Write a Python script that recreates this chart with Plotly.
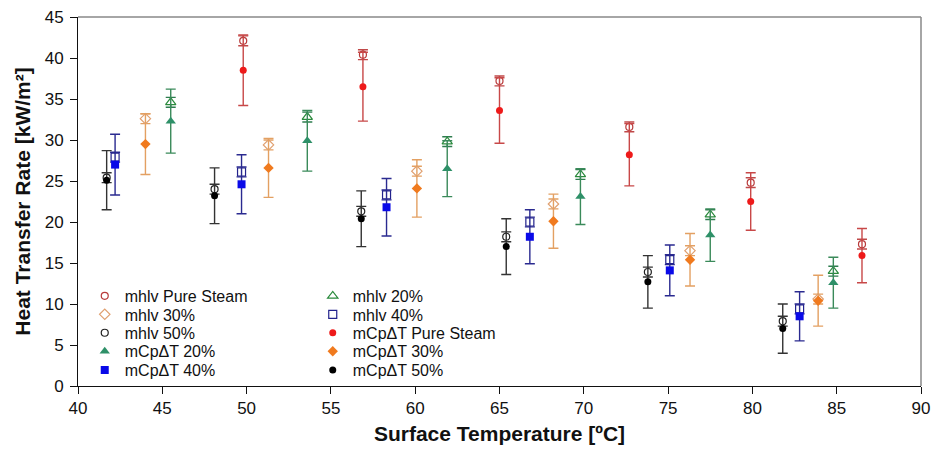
import plotly.graph_objects as go

# Surface temperatures (x) per series
x_ps = [49.8, 56.9, 65.0, 72.7, 79.9, 86.5]
x_20 = [45.5, 53.6, 61.9, 69.8, 77.5, 84.8]
x_30 = [44.0, 51.3, 60.1, 68.2, 76.3, 83.9]
x_40 = [42.2, 49.7, 58.3, 66.8, 75.1, 82.8]
x_50 = [41.7, 48.1, 56.8, 65.4, 73.8, 81.8]

# mhlv heat transfer rate
mhlv_ps = [42.1, 40.4, 37.2, 31.6, 24.8, 17.3]
mhlv_20 = [34.6, 32.8, 29.8, 25.8, 20.9, 14.0]
mhlv_30 = [32.6, 29.4, 26.2, 22.2, 16.5, 10.6]
mhlv_40 = [27.9, 26.1, 23.3, 20.0, 15.4, 9.4]
mhlv_50 = [25.4, 24.0, 21.3, 18.2, 13.9, 7.9]
mhlv_err = [0.6, 0.6, 0.6, 0.6, 0.6, 0.6]

# mCpDeltaT heat transfer rate and error
mcp_ps = [38.5, 36.5, 33.6, 28.2, 22.5, 15.9]
mcp_ps_err = [4.3, 4.2, 4.0, 3.8, 3.5, 3.3]
mcp_20 = [32.3, 29.9, 26.5, 23.1, 18.4, 12.6]
mcp_20_err = [3.9, 3.7, 3.4, 3.4, 3.2, 3.1]
mcp_30 = [29.5, 26.6, 24.1, 20.1, 15.4, 10.4]
mcp_30_err = [3.7, 3.6, 3.5, 3.3, 3.2, 3.1]
mcp_40 = [27.0, 24.6, 21.8, 18.2, 14.1, 8.5]
mcp_40_err = [3.7, 3.6, 3.5, 3.3, 3.1, 3.0]
mcp_50 = [25.1, 23.2, 20.4, 17.0, 12.7, 7.0]
mcp_50_err = [3.6, 3.4, 3.4, 3.4, 3.2, 3.0]

FONT = "Liberation Sans, Arial, sans-serif"

fig = go.Figure()


def add(name, x, y, err, symbol, size, mcolor, ecolor, filled, legend):
    fig.add_trace(go.Scatter(
        x=x, y=y, mode="markers", name=name, legend=legend,
        marker=dict(symbol=symbol, size=size,
                    color=mcolor if filled else "white",
                    line=dict(color=mcolor, width=1.2 if not filled else 0)),
        error_y=dict(type="data", array=err, visible=True, color=ecolor,
                     thickness=1.4, width=5),
    ))


# mhlv (open) series
add("mhlv Pure Steam", x_ps, mhlv_ps, mhlv_err, "circle", 7, "#b83a3a", "#c04848", False, "legend")
add("mhlv 20%", x_20, mhlv_20, mhlv_err, "triangle-up", 9, "#2a8a3c", "#2e7d4f", False, "legend")
add("mhlv 30%", x_30, mhlv_30, mhlv_err, "diamond", 8, "#e0a070", "#e3a062", False, "legend2")
add("mhlv 40%", x_40, mhlv_40, mhlv_err, "square", 8, "#22228c", "#2a2a90", False, "legend2")
add("mhlv 50%", x_50, mhlv_50, mhlv_err, "circle", 7, "#222222", "#333333", False, "legend3")
# mCpDeltaT (filled) series
add("mCpΔT Pure Steam", x_ps, mcp_ps, mcp_ps_err, "circle", 7, "#ee1a1a", "#c84848", True, "legend3")
add("mCpΔT 20%", x_20, mcp_20, mcp_20_err, "triangle-up", 9, "#2e9068", "#3a8a5a", True, "legend4")
add("mCpΔT 30%", x_30, mcp_30, mcp_30_err, "diamond", 8, "#f07a1e", "#e3a062", True, "legend4")
add("mCpΔT 40%", x_40, mcp_40, mcp_40_err, "square", 8, "#0a0ae8", "#2a2a90", True, "legend5")
add("mCpΔT 50%", x_50, mcp_50, mcp_50_err, "circle", 7, "#000000", "#333333", True, "legend5")

legend_common = dict(font=dict(family=FONT, size=16, color="#111"),
                     bgcolor="rgba(0,0,0,0)", yanchor="middle", xanchor="left",
                     orientation="h", entrywidth=183, entrywidthmode="pixels",
                     itemwidth=30, x=0.008)
row_y = [0.244, 0.194, 0.144, 0.094, 0.043]

fig.update_layout(
    width=933, height=450,
    margin=dict(l=78, r=12, t=17, b=64),
    paper_bgcolor="white", plot_bgcolor="white",
    font=dict(family=FONT, size=17, color="#111"),
    showlegend=True,
    legend=dict(y=row_y[0], **legend_common),
    legend2=dict(y=row_y[1], **legend_common),
    legend3=dict(y=row_y[2], **legend_common),
    legend4=dict(y=row_y[3], **legend_common),
    legend5=dict(y=row_y[4], **legend_common),
    xaxis=dict(range=[40, 90], tick0=40, dtick=5, ticks="outside", ticklen=7,
               tickcolor="#111", showline=True, linecolor="#111", linewidth=1,
               showgrid=False, zeroline=False, automargin=False,
               tickfont=dict(family=FONT, size=17),
               title=dict(text="<b>Surface Temperature [ºC]</b>",
                          font=dict(family=FONT, size=21), standoff=8)),
    yaxis=dict(range=[0, 45], tick0=0, dtick=5, ticks="outside", ticklen=7,
               tickcolor="#111", showline=True, linecolor="#111", linewidth=1,
               showgrid=False, zeroline=False, ticklabelstandoff=3,
               automargin=False,
               tickfont=dict(family=FONT, size=17),
               title=dict(text="<b>Heat Transfer Rate [kW/m²]</b>",
                          font=dict(family=FONT, size=21), standoff=8)),
    shapes=[
        dict(type="line", xref="paper", yref="paper", x0=0, x1=1, y0=1, y1=1,
             line=dict(color="#888", width=1.5)),
        dict(type="line", xref="paper", yref="paper", x0=1, x1=1, y0=0, y1=1,
             line=dict(color="#888", width=1.5)),
    ],
)

fig.write_html("out.html")
